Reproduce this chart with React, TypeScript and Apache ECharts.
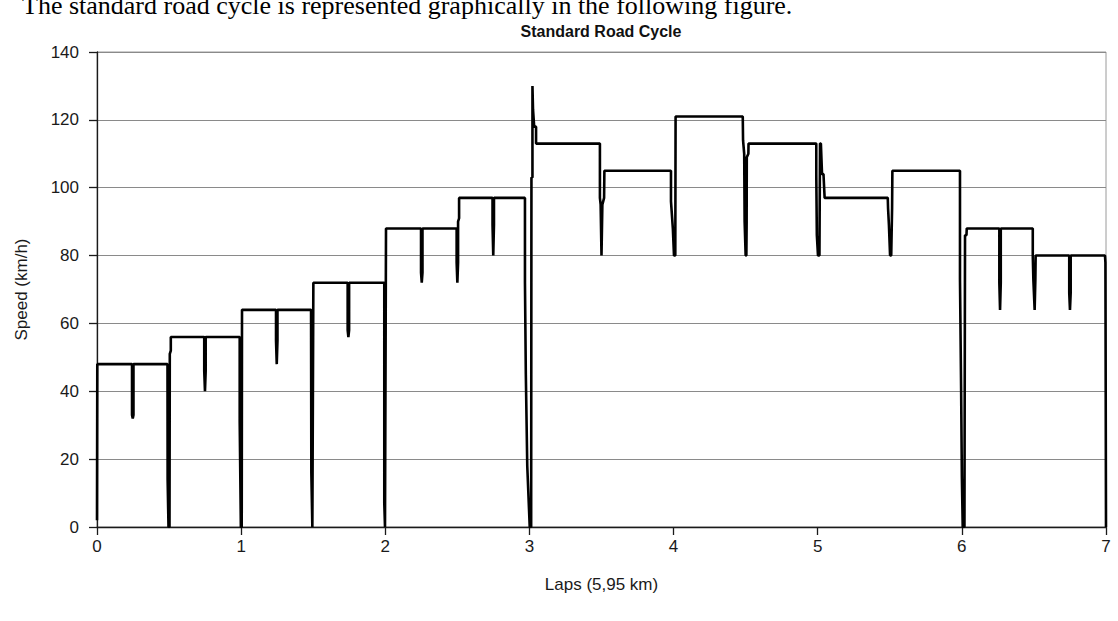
import React, { useEffect, useRef } from "react";
import * as echarts from "echarts";

// Speed trace: [lap position, speed km/h]
const lap1: [number, number][] = [
  [0.0, 2], [0.002, 48],
  [0.243, 48], [0.243, 33], [0.248, 32], [0.253, 33], [0.253, 48],
  [0.489, 48], [0.490, 14], [0.496, 0], [0.503, 0], [0.505, 51], [0.512, 52], [0.512, 56],
  [0.744, 56], [0.744, 46], [0.749, 40], [0.754, 46], [0.754, 56],
  [0.990, 56], [0.990, 31], [0.998, 0], [1.004, 0], [1.006, 64],
];
const lap2: [number, number][] = [
  [1.242, 64], [1.242, 55], [1.247, 48], [1.252, 55], [1.252, 64],
  [1.485, 64], [1.487, 16], [1.494, 0], [1.498, 0], [1.501, 72],
  [1.739, 72], [1.739, 58], [1.744, 56], [1.749, 58], [1.749, 72],
  [1.993, 72], [1.993, 7], [1.998, 0], [2.002, 0], [2.005, 88],
];
const lap3: [number, number][] = [
  [2.248, 88], [2.248, 75], [2.253, 72], [2.258, 75], [2.258, 88],
  [2.495, 88], [2.495, 78], [2.5, 72], [2.505, 78], [2.505, 90], [2.512, 91], [2.512, 97],
  [2.744, 97], [2.744, 89], [2.749, 80], [2.754, 89], [2.754, 97],
  [2.969, 97], [2.969, 72], [2.975, 45], [2.985, 18], [3.002, 0], [3.012, 0],
  [3.014, 103], [3.021, 103], [3.021, 130], [3.025, 123], [3.033, 118], [3.046, 118], [3.046, 113],
];
const lap4: [number, number][] = [
  [3.489, 113], [3.489, 97], [3.494, 95], [3.5, 80], [3.506, 95], [3.518, 97], [3.52, 105],
  [3.982, 105], [3.982, 96], [3.995, 88], [4.003, 80], [4.012, 80], [4.014, 121],
];
const lap5: [number, number][] = [
  [4.48, 121], [4.482, 114], [4.49, 110], [4.493, 90], [4.5, 80], [4.505, 80], [4.507, 90],
  [4.508, 109], [4.519, 110], [4.52, 113],
  [4.99, 113], [4.99, 104], [4.994, 86], [5.002, 80], [5.012, 80], [5.016, 113], [5.022, 113],
  [5.03, 104], [5.04, 104], [5.048, 97],
];
const lap6: [number, number][] = [
  [5.486, 97], [5.488, 94], [5.494, 89], [5.502, 80], [5.51, 80], [5.516, 94], [5.518, 105],
  [5.987, 105], [5.987, 73], [5.995, 40], [6.0, 15], [6.006, 0], [6.018, 0],
  [6.022, 86], [6.032, 86], [6.034, 88],
];
const lap7: [number, number][] = [
  [6.26, 88], [6.26, 72], [6.265, 64], [6.27, 72], [6.27, 88],
  [6.492, 88], [6.492, 80], [6.496, 73], [6.505, 64], [6.51, 73], [6.512, 80],
  [6.745, 80], [6.745, 69], [6.75, 64], [6.755, 69], [6.755, 80],
  [6.993, 80], [6.996, 78], [7.0, 0],
];

const TITLE = "Standard Road Cycle";
const INTRO = "The standard road cycle is represented graphically in the following figure.";
const X_NAME = "Laps (5,95 km)";
const Y_NAME = "Speed (km/h)";

export default function App() {
  const ref = useRef<HTMLDivElement>(null);
  useEffect(() => {
    if (!ref.current) return;
    const chart = echarts.init(ref.current, undefined, { renderer: "svg" });
    const data = [...lap1, ...lap2, ...lap3, ...lap4, ...lap5, ...lap6, ...lap7];
    const axisColor = "#1a1a1a";
    const font = "Liberation Sans";
    chart.setOption({
      animation: false,
      backgroundColor: "#ffffff",
      grid: { left: 97, right: 12, top: 52, bottom: 94, show: true, borderColor: "#9a9a9a", borderWidth: 1 },
      xAxis: {
        type: "value", min: 0, max: 7, interval: 1,
        axisLine: { show: true, onZero: false, lineStyle: { color: axisColor, width: 1.3 } },
        axisTick: { show: true, length: 8, lineStyle: { color: axisColor, width: 1.3 } },
        splitLine: { show: false },
        axisLabel: { fontFamily: font, fontSize: 17, color: axisColor, margin: 11 },
        name: X_NAME, nameLocation: "middle", nameGap: 49,
        nameTextStyle: { fontFamily: font, fontSize: 17, color: axisColor },
      },
      yAxis: {
        type: "value", min: 0, max: 140, interval: 20,
        axisLine: { show: true, lineStyle: { color: axisColor, width: 1.3 } },
        axisTick: { show: true, length: 8, lineStyle: { color: axisColor, width: 1.3 } },
        splitLine: { show: true, lineStyle: { color: "#8a8a8a", width: 1 } },
        axisLabel: { fontFamily: font, fontSize: 17, color: axisColor, margin: 18 },
        name: Y_NAME, nameLocation: "middle", nameGap: 67, nameRotate: 90,
        nameTextStyle: { fontFamily: font, fontSize: 17, color: axisColor },
      },
      series: [
        {
          type: "line", data, showSymbol: false, silent: true,
          lineStyle: { color: "#000000", width: 2.6 },
        },
      ],
      graphic: [
        {
          type: "text", x: 601, y: 31, silent: true,
          style: { text: TITLE, font: `bold 16px "${font}"`, fill: "#111", textAlign: "center", textVerticalAlign: "middle" },
        },
        {
          type: "text", x: 22, y: 5, silent: true,
          style: { text: INTRO, font: `26px "Liberation Serif"`, fill: "#000", textAlign: "left", textVerticalAlign: "middle" },
        },
      ],
    });
    return () => chart.dispose();
  }, []);
  return (
    <div
      ref={ref}
      style={{ position: "fixed", left: 0, top: 0, width: 1118, height: 621, background: "#fff" }}
    />
  );
}
